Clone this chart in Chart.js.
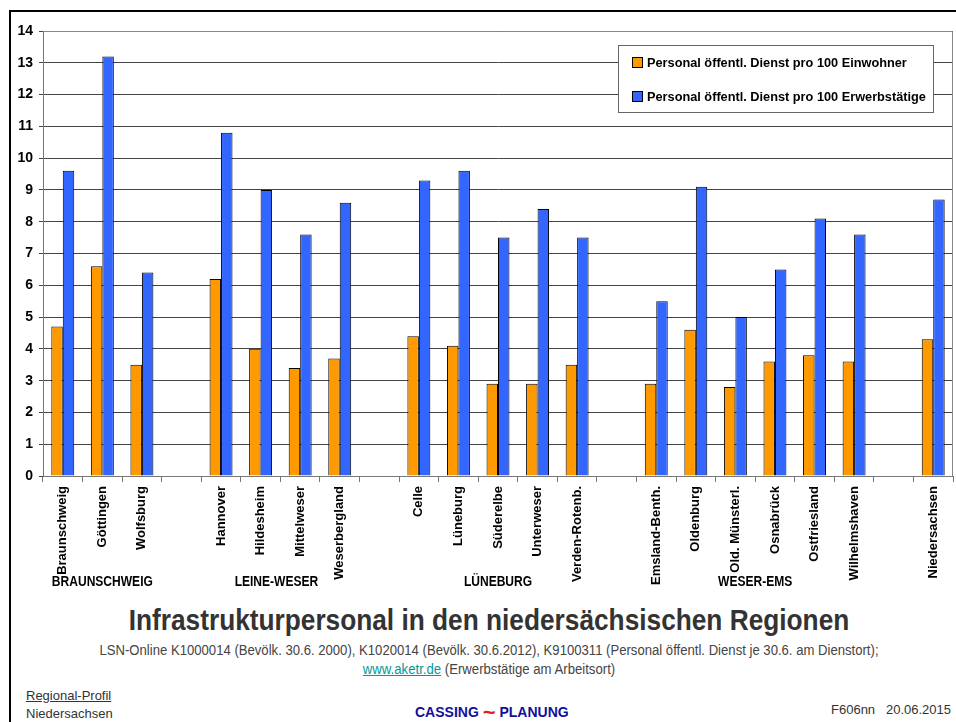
<!DOCTYPE html>
<html>
<head>
<meta charset="utf-8">
<script src="https://cdn.jsdelivr.net/npm/chart.js@4"></script>
<style>
  body { margin: 0; background: #fff; }
  #page { position: relative; width: 956px; height: 722px; overflow: hidden;
          font-family: "Liberation Sans Narrow", "Arial Narrow", "Liberation Sans", sans-serif; }
  #frame { position: absolute; left: 9px; top: 10px; width: 960px; height: 720px;
           border-left: 2px solid #000; border-top: 2px solid #000; }
  #cv { position: absolute; left: 0; top: 0; }
  .t { position: absolute; white-space: nowrap; }
  .c { left: 0; width: 978px; text-align: center; transform-origin: 489px 0; }
  #titel { top: 603px; font-size: 30px; font-weight: bold; color: #333; transform: scaleX(0.875); }
  #quelle1 { top: 642px; font-size: 14px; color: #444; transform: scaleX(0.937); }
  #quelle2 { top: 661px; font-size: 14px; color: #444; transform: scaleX(0.94); }
  #quelle2 a { color: #00999a; text-decoration: underline; }
  #rp { left: 26px; top: 688px; font-size: 13px; color: #333; text-decoration: underline; }
  #nds { left: 26px; top: 706px; font-size: 13px; color: #333; }
  #cassing { left: 415px; top: 697px; font-size: 14px; font-weight: bold; color: #10109a; }
  #cassing span { color: #e02020; font-size: 22px; position: relative; top: 3px; }
  #datum { left: 831px; top: 702px; font-size: 13px; color: #333; }
</style>
</head>
<body>
<div id="page">
  <div id="frame"></div>
  <canvas id="cv" width="956" height="600"></canvas>
  <div class="t c" id="titel">Infrastrukturpersonal in den niedersächsischen Regionen</div>
  <div class="t c" id="quelle1">LSN-Online K1000014 (Bevölk. 30.6. 2000), K1020014 (Bevölk. 30.6.2012), K9100311 (Personal öffentl. Dienst je 30.6. am Dienstort);</div>
  <div class="t c" id="quelle2"><a>www.aketr.de</a> (Erwerbstätige am Arbeitsort)</div>
  <div class="t" id="rp">Regional-Profil</div>
  <div class="t" id="nds">Niedersachsen</div>
  <div class="t" id="cassing">CASSING <span>~</span> PLANUNG</div>
  <div class="t" id="datum">F606nn &nbsp; 20.06.2015</div>
</div>
<script>
// Regionen, leere Einträge = Abstand zwischen den Gruppen
const regionen = ['Braunschweig', 'Göttingen', 'Wolfsburg', '',
  'Hannover', 'Hildesheim', 'Mittelweser', 'Weserbergland', '',
  'Celle', 'Lüneburg', 'Süderelbe', 'Unterweser', 'Verden-Rotenb.', '',
  'Emsland-Benth.', 'Oldenburg', 'Old. Münsterl.', 'Osnabrück', 'Ostfriesland', 'Wilhelmshaven', '',
  'Niedersachsen'];
const proEinwohner = [4.7, 6.6, 3.5, null,
  6.2, 4.0, 3.4, 3.7, null,
  4.4, 4.1, 2.9, 2.9, 3.5, null,
  2.9, 4.6, 2.8, 3.6, 3.8, 3.6, null,
  4.3];
const proErwerbstaetige = [9.6, 13.2, 6.4, null,
  10.8, 9.0, 7.6, 8.6, null,
  9.3, 9.6, 7.5, 8.4, 7.5, null,
  5.5, 9.1, 5.0, 6.5, 8.1, 7.6, null,
  8.7];
const gruppen = ['BRAUNSCHWEIG', 'LEINE-WESER', 'LÜNEBURG', 'WESER-EMS'];
const gruppenMitte = [1, 5.4, 11, 17.5]; // Position in Kategorien
const legendeTexte = ['Personal öffentl. Dienst pro 100 Einwohner', 'Personal öffentl. Dienst pro 100 Erwerbstätige'];
const farben = ['#ff9900', '#3366ff'];

const schrift = '"Liberation Sans Narrow", "Arial Narrow", "Liberation Sans", sans-serif';

// schmal gezeichneter Text (Ersatz für Arial Narrow)
function schmal(ctx, text, x, y, f) {
  ctx.save();
  ctx.translate(x, y);
  ctx.scale(f, 1);
  ctx.fillText(text, 0, 0);
  ctx.restore();
}

// Gruppennamen, Rahmen der Zeichenfläche und Legende
const extras = {
  id: 'extras',
  afterDraw(chart) {
    const ctx = chart.ctx;
    const x = chart.scales.x;
    const a = chart.chartArea;
    ctx.save();
    ctx.strokeStyle = '#888';
    ctx.lineWidth = 1;
    ctx.beginPath();
    ctx.moveTo(a.left, a.top + 0.5);
    ctx.lineTo(a.right - 0.5, a.top + 0.5);
    ctx.lineTo(a.right - 0.5, a.bottom);
    ctx.stroke();

    ctx.fillStyle = '#000';
    ctx.font = 'bold 14px ' + schrift;
    ctx.textAlign = 'center';
    ctx.textBaseline = 'middle';
    gruppen.forEach((g, i) => {
      const px = x.getPixelForValue(gruppenMitte[i]);
      schmal(ctx, g, px, 582, 0.86);
    });

    // Legende
    const lx = 618, ly = 45, lw = 315, lh = 67;
    ctx.fillStyle = '#fff';
    ctx.fillRect(lx, ly, lw, lh);
    ctx.strokeStyle = '#666';
    ctx.strokeRect(lx + 0.5, ly + 0.5, lw, lh);
    ctx.textAlign = 'left';
    ctx.font = 'bold 13px ' + schrift;
    legendeTexte.forEach((t, i) => {
      const cy = 63 + i * 34;
      ctx.fillStyle = farben[i];
      ctx.fillRect(633, cy - 5, 9, 9);
      ctx.strokeStyle = '#000';
      ctx.strokeRect(632.5, cy - 5.5, 10, 10);
      ctx.fillStyle = '#000';
      schmal(ctx, t, 647, cy, 0.98);
    });
    ctx.restore();
  }
};

new Chart(document.getElementById('cv'), {
  type: 'bar',
  data: {
    labels: regionen,
    datasets: [
      { label: legendeTexte[0], data: proEinwohner, backgroundColor: farben[0],
        borderColor: '#000', borderWidth: 1 },
      { label: legendeTexte[1], data: proErwerbstaetige, backgroundColor: farben[1],
        borderColor: '#000', borderWidth: 1 }
    ]
  },
  options: {
    responsive: false,
    animation: false,
    layout: { padding: { left: 0, top: 31, right: 3, bottom: 0 } },
    datasets: { bar: { categoryPercentage: 0.58, barPercentage: 1.0 } },
    plugins: { legend: { display: false }, tooltip: { enabled: false } },
    scales: {
      x: {
        afterFit(s) { s.height = 124; },
        grid: { offset: true, drawOnChartArea: false, tickLength: 6, color: '#777' },
        border: { color: '#777' },
        ticks: { minRotation: 90, maxRotation: 90, autoSkip: false, padding: 4,
          color: '#000', font: { family: schrift, size: 13, weight: 'bold' } }
      },
      y: {
        min: 0, max: 14,
        afterFit(s) { s.width = 43; },
        grid: { color: '#444', tickLength: 4 },
        border: { color: '#777' },
        ticks: { stepSize: 1, padding: 6, color: '#000',
          font: { family: schrift, size: 14, weight: 'bold' } }
      }
    }
  },
  plugins: [extras]
});
</script>
</body>
</html>
